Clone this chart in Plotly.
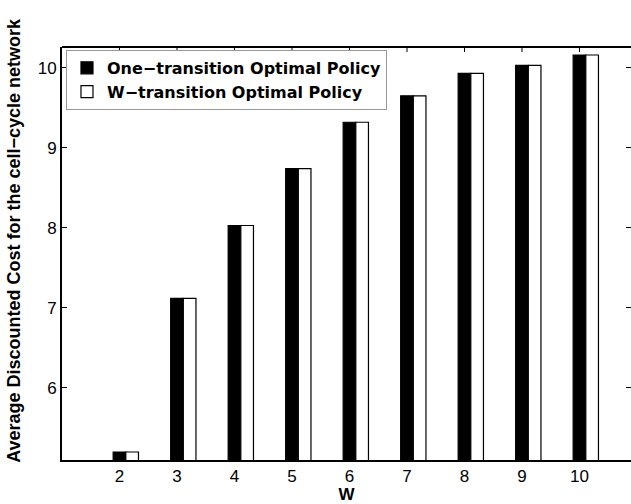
import plotly.graph_objects as go

# Horizon length W and the average discounted cost of each policy
W = [2, 3, 4, 5, 6, 7, 8, 9, 10]
one_transition_cost = [5.20, 7.12, 8.03, 8.74, 9.32, 9.65, 9.93, 10.03, 10.16]
w_transition_cost = [5.20, 7.12, 8.03, 8.74, 9.32, 9.65, 9.93, 10.03, 10.16]
y_tick_values = [6, 7, 8, 9, 10]

FONT = "Liberation Sans, Arial, Helvetica, sans-serif"
LEGEND_FONT = "DejaVu Sans, Liberation Sans, Arial, sans-serif"
X_RANGE = [1, 10.896]
Y_RANGE = [5.1, 10.26]
PLOT_H = 504 - 47 - 44   # plot area height in px
TICK_LEN = 5

fig = go.Figure()
fig.add_trace(go.Bar(
    x=W, y=one_transition_cost, name="One\u2212transition Optimal Policy",
    marker=dict(color="black", line=dict(color="black", width=1.2)),
    width=0.22, offset=-0.11, yaxis="y",
))
# second series sits on a twin y axis so the right-hand ticks are drawn
fig.add_trace(go.Bar(
    x=W, y=w_transition_cost, name="W\u2212transition Optimal Policy",
    marker=dict(color="white", line=dict(color="black", width=1.2)),
    width=0.22, offset=0.11, yaxis="y2",
))

tick_style = dict(ticks="inside", ticklen=TICK_LEN, tickcolor="black", tickwidth=1,
                  showgrid=False, zeroline=False)

# top frame line and its inward ticks
shapes = [dict(type="line", xref="paper", yref="paper", x0=0, x1=1, y0=1, y1=1,
               line=dict(color="black", width=2))]
for w in W:
    shapes.append(dict(type="line", xref="x", yref="paper", x0=w, x1=w,
                       y0=1, y1=1 - TICK_LEN / PLOT_H,
                       line=dict(color="black", width=1)))

fig.update_layout(
    width=631, height=504,
    margin=dict(l=62, r=0, t=47, b=44),
    paper_bgcolor="white", plot_bgcolor="white",
    barmode="overlay",
    font=dict(family=FONT, color="black", size=17),
    showlegend=True,
    legend=dict(
        x=0.007, y=0.993, xanchor="left", yanchor="top",
        bgcolor="white", bordercolor="#999999", borderwidth=1,
        font=dict(family=LEGEND_FONT, size=16, weight="bold", color="black"),
        tracegroupgap=0,
    ),
    xaxis=dict(
        range=X_RANGE, tickvals=W, ticktext=[str(w) for w in W],
        showline=True, linecolor="black", linewidth=2,
        tickfont=dict(size=17),
        title=dict(text="W", font=dict(size=17, weight="bold"), standoff=0),
        **tick_style,
    ),
    yaxis=dict(
        range=Y_RANGE, tickvals=y_tick_values,
        showline=True, linecolor="black", linewidth=2,
        tickfont=dict(size=17),
        **tick_style,
    ),
    yaxis2=dict(
        overlaying="y", side="right", anchor="x",
        range=Y_RANGE, tickvals=y_tick_values,
        showline=False, showticklabels=False,
        **tick_style,
    ),
    shapes=shapes,
    annotations=[dict(
        text="Average Discounted Cost for the cell\u2212cycle network",
        xref="paper", yref="paper", x=-0.0844, y=0.533,
        xanchor="center", yanchor="middle", textangle=-90, showarrow=False,
        font=dict(family=FONT, size=18, weight="bold", color="black"),
    )],
)

fig.write_html("out.html", config={"displayModeBar": False})
